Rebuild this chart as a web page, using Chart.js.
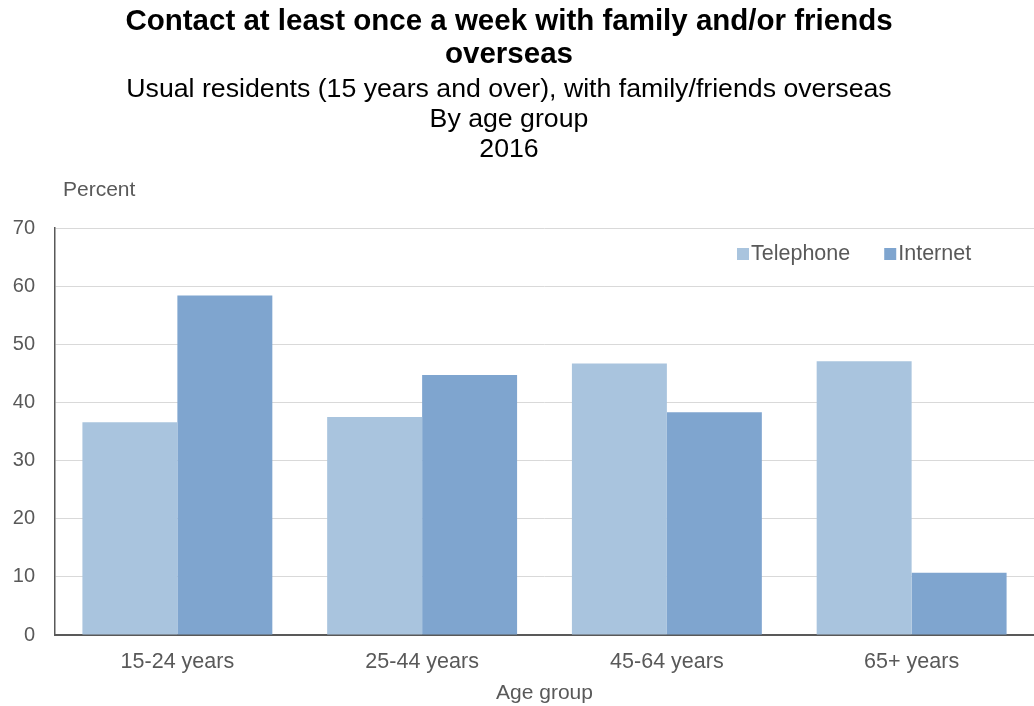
<!DOCTYPE html>
<html>
<head>
<meta charset="utf-8">
<script src="https://cdn.jsdelivr.net/npm/chart.js@4/dist/chart.umd.min.js"></script>
<style>
  html, body { margin: 0; padding: 0; background: #fff; }
  #wrap { width: 1034px; height: 706px; }
</style>
</head>
<body>
<div id="wrap"><canvas id="contactChart"></canvas></div>
<script>
// Data
const ageGroups = ['15-24 years', '25-44 years', '45-64 years', '65+ years'];
const telephone = [36.6, 37.5, 46.7, 47.1];
const internet = [58.4, 44.7, 38.3, 10.7];
const seriesNames = ['Telephone', 'Internet'];
const yTicks = [0, 10, 20, 30, 40, 50, 60, 70];
const titleLines = ['Contact at least once a week with family and/or friends', 'overseas'];
const subtitleLines = ['Usual residents (15 years and over), with family/friends overseas', 'By age group', '2016'];

const FONT = '"Liberation Sans", Arial, sans-serif';
const GREY = '#595959';

// Titles, y caption and legend drawn by hand
const decorations = {
  id: 'decorations',
  afterDraw(chart) {
    const { ctx, chartArea } = chart;
    ctx.save();
    ctx.textBaseline = 'middle';

    // titles
    ctx.textAlign = 'center';
    const cx = chart.width / 2 - 8;
    ctx.fillStyle = '#000';
    ctx.font = 'bold 29.5px ' + FONT;
    titleLines.forEach((t, i) => ctx.fillText(t, cx, 22 + i * 33));
    ctx.font = '26.7px ' + FONT;
    subtitleLines.forEach((t, i) => ctx.fillText(t, cx, 90 + i * 30));

    // y axis caption above the axis
    ctx.textAlign = 'left';
    ctx.fillStyle = GREY;
    ctx.font = '21px ' + FONT;
    ctx.fillText('Percent', chartArea.left + 8, chartArea.top - 38);

    // legend inside the plot, top right
    ctx.font = '21.5px ' + FONT;
    let x = chartArea.right - 297;
    const y = chartArea.top + 26;
    chart.data.datasets.forEach((ds) => {
      ctx.fillStyle = ds.backgroundColor;
      ctx.fillRect(x, y - 6, 12, 12);
      ctx.fillStyle = GREY;
      ctx.fillText(ds.label, x + 14, y);
      x += 14 + ctx.measureText(ds.label).width + 34;
    });
    ctx.restore();
  }
};

const ctx = document.getElementById('contactChart').getContext('2d');
new Chart(ctx, {
  type: 'bar',
  data: {
    labels: ageGroups,
    datasets: [
      { label: seriesNames[0], data: telephone, backgroundColor: '#A9C4DE' },
      { label: seriesNames[1], data: internet, backgroundColor: '#7FA5CF' },
    ],
  },
  options: {
    responsive: true,
    maintainAspectRatio: false,
    animation: false,
    layout: { padding: { top: 228, left: 0, right: 0, bottom: 0 } },
    datasets: { bar: { categoryPercentage: 0.776, barPercentage: 1.0 } },
    plugins: {
      legend: { display: false },
      tooltip: { enabled: false },
    },
    scales: {
      x: {
        afterFit: (scale) => { scale.height = 71; },
        grid: { display: false, drawTicks: false },
        border: { color: GREY, width: 2 },
        ticks: { color: GREY, font: { family: FONT, size: 21.5 }, padding: 14 },
        title: {
          display: true,
          text: 'Age group',
          color: GREY,
          font: { family: FONT, size: 21 },
          padding: { top: 8, bottom: 0 },
        },
      },
      y: {
        min: 0,
        max: 70,
        afterBuildTicks: (scale) => { scale.ticks = yTicks.map((v) => ({ value: v })); },
        afterFit: (scale) => { scale.width = 55; },
        grid: { color: '#D9D9D9', lineWidth: 1, drawTicks: false },
        border: { color: GREY, width: 1.5 },
        ticks: { color: GREY, font: { family: FONT, size: 20 }, padding: 20 },
      },
    },
  },
  plugins: [decorations],
});
</script>
</body>
</html>
